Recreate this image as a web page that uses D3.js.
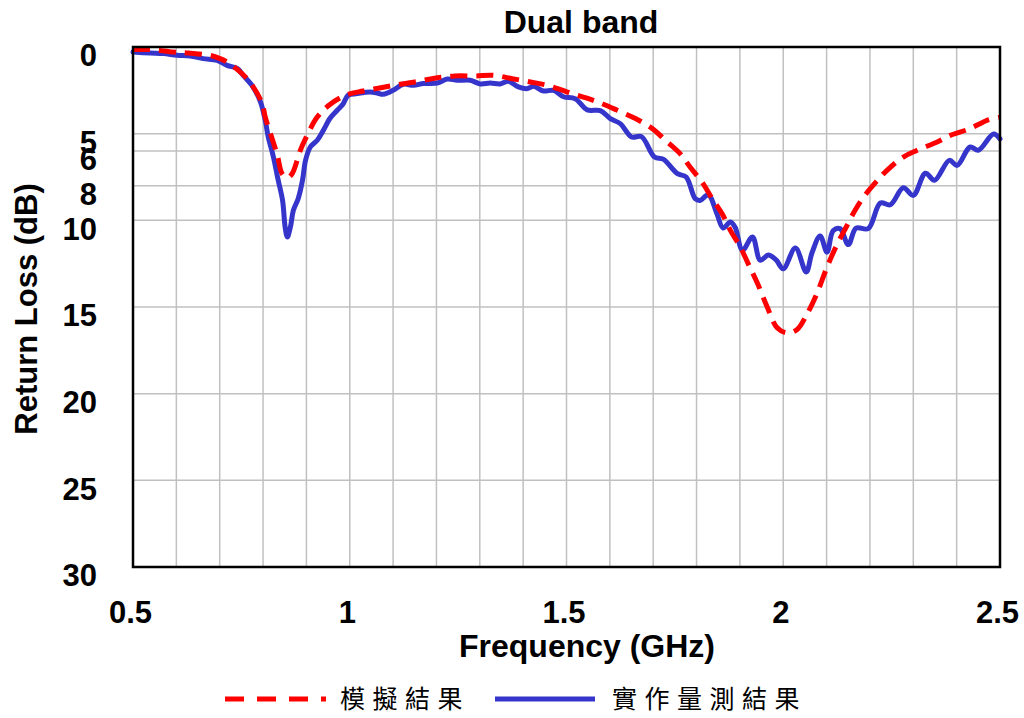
<!DOCTYPE html>
<html>
<head>
<meta charset="utf-8">
<script src="https://cdn.jsdelivr.net/npm/d3@7/dist/d3.min.js"></script>
<style>
  html, body { margin: 0; padding: 0; background: #ffffff; }
  svg { display: block; }
</style>
</head>
<body>
<svg id="chart" width="1024" height="718"></svg>
<script>
// Return loss of the dual-band antenna: simulation vs. measurement
const simFreq = [0.500, 0.540, 0.593, 0.628, 0.678, 0.701, 0.717, 0.752, 0.775, 0.798, 0.805, 0.821, 0.833, 0.844, 0.856, 0.867, 0.886, 0.898, 0.925, 0.955,
  0.994, 1.031, 1.075, 1.116, 1.163, 1.202, 1.243, 1.290, 1.331, 1.375, 1.417, 1.456, 1.502, 1.539, 1.578, 1.617, 1.659, 1.698, 1.728, 1.762,
  1.785, 1.815, 1.836, 1.859, 1.878, 1.901, 1.919, 1.940, 1.963, 1.986, 2.009, 2.032, 2.055, 2.078, 2.101, 2.124, 2.145, 2.166, 2.187, 2.217,
  2.240, 2.277, 2.309, 2.355, 2.385, 2.431, 2.470, 2.500];
const simLoss = [0.15, 0.15, 0.29, 0.35, 0.48, 0.67, 0.87, 1.54, 2.21, 3.27, 4.04, 5.29, 6.25, 7.31, 7.54, 7.31, 5.96, 5.29, 4.04, 3.30,
  2.75, 2.54, 2.34, 2.15, 1.96, 1.77, 1.67, 1.67, 1.63, 1.83, 2.02, 2.21, 2.60, 2.89, 3.23, 3.65, 4.13, 4.71, 5.38, 6.15,
  6.92, 7.88, 8.75, 9.62, 10.58, 11.54, 12.5, 13.6, 15.0, 16.2, 16.5, 16.3, 15.4, 14.2, 12.7, 11.4, 10.4, 9.4, 8.6, 7.7,
  7.1, 6.35, 5.96, 5.48, 5.10, 4.71, 4.23, 4.05];

const measFreq = [0.500, 0.540, 0.570, 0.602, 0.632, 0.662, 0.694, 0.717, 0.741, 0.754, 0.777, 0.794, 0.805, 0.812, 0.824, 0.835, 0.845, 0.851, 0.856, 0.863,
  0.870, 0.881, 0.891, 0.898, 0.909, 0.925, 0.939, 0.955, 0.971, 0.985, 0.996, 1.017, 1.047, 1.063, 1.077, 1.100, 1.123, 1.147, 1.170, 1.202,
  1.225, 1.248, 1.278, 1.301, 1.324, 1.347, 1.366, 1.389, 1.410, 1.424, 1.447, 1.470, 1.493, 1.520, 1.548, 1.578, 1.601, 1.624, 1.650, 1.673,
  1.703, 1.723, 1.756, 1.776, 1.797, 1.808, 1.827, 1.847, 1.861, 1.878, 1.889, 1.906, 1.929, 1.947, 1.966, 1.984, 2.000, 2.028, 2.053, 2.066,
  2.085, 2.101, 2.115, 2.131, 2.150, 2.168, 2.196, 2.224, 2.247, 2.277, 2.300, 2.328, 2.349, 2.383, 2.401, 2.431, 2.450, 2.485, 2.500];
const measLoss = [0.29, 0.35, 0.38, 0.48, 0.52, 0.67, 0.77, 1.06, 1.25, 1.63, 2.31, 3.17, 4.23, 5.19, 6.35, 7.69, 8.85, 10.4, 10.96, 10.4,
  9.42, 8.75, 7.69, 6.54, 5.77, 5.38, 4.81, 4.10, 3.65, 3.27, 2.79, 2.69, 2.60, 2.65, 2.73, 2.50, 2.15, 2.21, 2.11, 2.08,
  1.85, 1.92, 1.92, 2.13, 2.08, 2.13, 1.98, 2.30, 2.40, 2.27, 2.54, 2.50, 2.87, 2.98, 3.63, 3.67, 4.13, 4.42, 5.19, 5.17,
  6.35, 6.47, 7.31, 7.50, 8.75, 8.85, 8.53, 9.62, 10.44, 10.1, 10.4, 11.73, 10.96, 12.3, 12.0, 12.3, 12.8, 11.6, 12.98, 11.9,
  10.9, 11.83, 10.6, 10.48, 11.4, 10.45, 10.48, 9.0, 9.1, 8.12, 8.56, 7.28, 7.69, 6.54, 6.83, 5.77, 5.96, 5.02, 5.30];

const xTicks = [0.5, 1, 1.5, 2, 2.5];
const yTicks = [0, 5, 6, 8, 10, 15, 20, 25, 30];
const xGrid = [0.6, 0.7, 0.8, 0.9, 1.0, 1.1, 1.2, 1.3, 1.4, 1.5, 1.6, 1.7, 1.8, 1.9, 2.0, 2.1, 2.2, 2.3, 2.4];
const yGrid = [5, 6, 8, 10, 15, 20, 25];

const seriesNames = ["模擬結果", "實作量測結果"];

const svg = d3.select("#chart");
const plotL = 133, plotR = 1000, plotT = 47, plotB = 567;
const font = "'Liberation Sans', Arial, sans-serif";

const x = d3.scaleLinear().domain([0.5, 2.5]).range([plotL, plotR]);
const y = d3.scaleLinear().domain([0, 30]).range([plotT, plotB]);

// grid
svg.append("g").selectAll("line").data(xGrid).join("line")
  .attr("x1", d => x(d)).attr("x2", d => x(d))
  .attr("y1", plotT).attr("y2", plotB)
  .attr("stroke", "#c0c0c0").attr("stroke-width", 1.5);
svg.append("g").selectAll("line").data(yGrid).join("line")
  .attr("x1", plotL).attr("x2", plotR)
  .attr("y1", d => y(d)).attr("y2", d => y(d))
  .attr("stroke", "#c0c0c0").attr("stroke-width", 1.5);

// curves
const simData = simFreq.map((f, i) => [f, simLoss[i]]);
const measData = measFreq.map((f, i) => [f, measLoss[i]]);

const line = d3.line().x(d => x(d[0])).y(d => y(d[1])).curve(d3.curveCatmullRom.alpha(0.5));

svg.append("path").datum(measData)
  .attr("d", line)
  .attr("fill", "none")
  .attr("stroke", "#3535cc")
  .attr("stroke-width", 5)
  .attr("stroke-linejoin", "round")
  .attr("stroke-linecap", "round");

svg.append("path").datum(simData)
  .attr("d", line)
  .attr("fill", "none")
  .attr("stroke", "#ff0000")
  .attr("stroke-width", 5)
  .attr("stroke-dasharray", "17,9");

// frame
svg.append("rect")
  .attr("x", plotL).attr("y", plotT)
  .attr("width", plotR - plotL).attr("height", plotB - plotT)
  .attr("fill", "none").attr("stroke", "#000").attr("stroke-width", 2.5);

// axes
const xAxis = svg.append("g")
  .attr("transform", `translate(0,${plotB})`)
  .call(d3.axisBottom(x).tickValues(xTicks).tickSize(0).tickPadding(34).tickFormat(d3.format("")));
xAxis.select(".domain").remove();
xAxis.selectAll("text")
  .attr("dx", -3)
  .style("font-family", font).style("font-size", "31px").style("font-weight", "bold").attr("fill", "#000");

const yAxis = svg.append("g")
  .attr("transform", `translate(${plotL},0)`)
  .call(d3.axisLeft(y).tickValues(yTicks).tickSize(0).tickPadding(36));
yAxis.select(".domain").remove();
yAxis.selectAll("text")
  .attr("dy", "0.61em")
  .style("font-family", font).style("font-size", "31px").style("font-weight", "bold").attr("fill", "#000");

// titles
svg.append("text")
  .attr("x", 581).attr("y", 33)
  .attr("text-anchor", "middle")
  .style("font-family", font).style("font-size", "32px").style("font-weight", "bold")
  .text("Dual band");

svg.append("text")
  .attr("x", 587).attr("y", 657)
  .attr("text-anchor", "middle")
  .style("font-family", font).style("font-size", "32px").style("font-weight", "bold")
  .text("Frequency (GHz)");

svg.append("text")
  .attr("transform", "translate(37,309) rotate(-90)")
  .attr("text-anchor", "middle")
  .style("font-family", font).style("font-size", "31px").style("font-weight", "bold")
  .text("Return Loss (dB)");

// legend
const legY = 699;
svg.append("line")
  .attr("x1", 225).attr("x2", 326).attr("y1", legY).attr("y2", legY)
  .attr("stroke", "#ff0000").attr("stroke-width", 5).attr("stroke-dasharray", "19,13");
svg.append("text")
  .attr("x", 340).attr("y", legY + 9)
  .style("font-family", "'Noto Sans CJK TC', sans-serif").style("font-size", "25px")
  .style("letter-spacing", "7.5px")
  .text(seriesNames[0]);

svg.append("line")
  .attr("x1", 495).attr("x2", 595).attr("y1", legY).attr("y2", legY)
  .attr("stroke", "#3535cc").attr("stroke-width", 5);
svg.append("text")
  .attr("x", 612).attr("y", legY + 9)
  .style("font-family", "'Noto Sans CJK TC', sans-serif").style("font-size", "25px")
  .style("letter-spacing", "7.5px")
  .text(seriesNames[1]);
</script>
</body>
</html>
